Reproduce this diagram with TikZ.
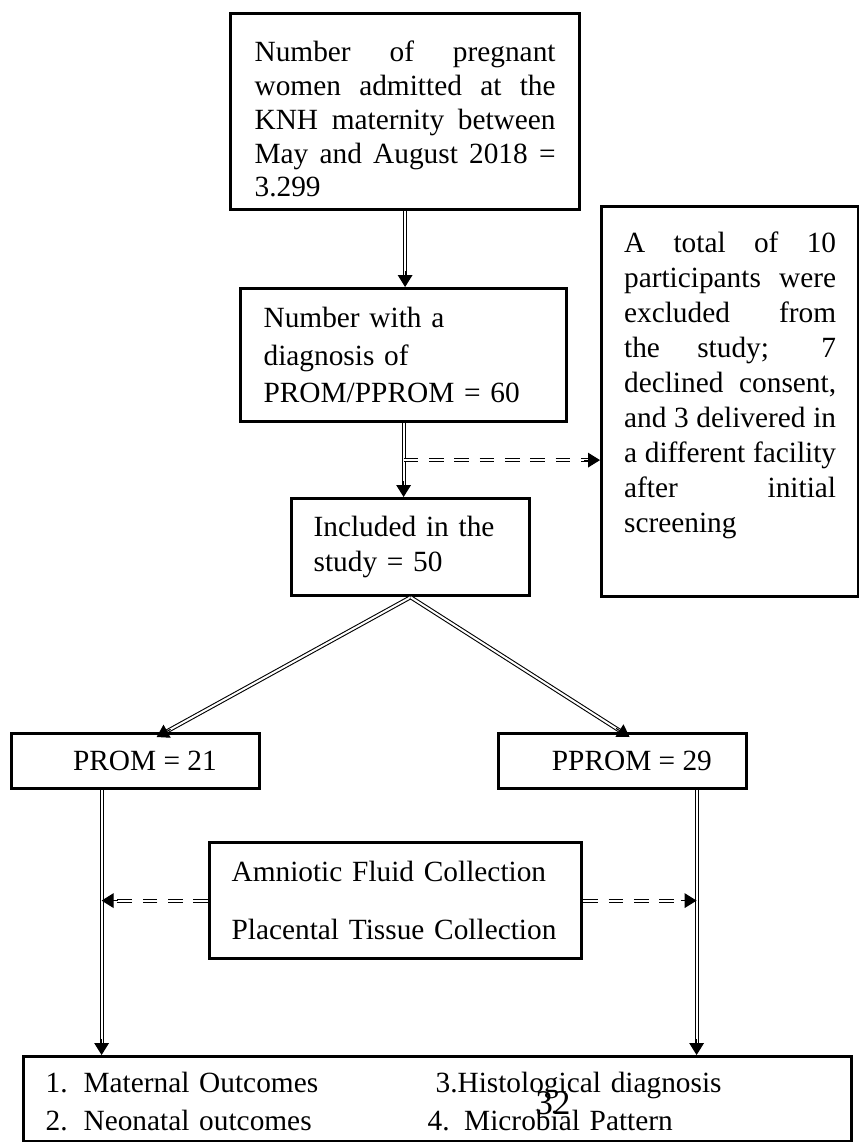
\documentclass[tikz,border=0pt]{standalone}
\usepackage{fontspec}
\setmainfont{Liberation Serif}
\usetikzlibrary{arrows.meta,positioning,calc}
\hyphenpenalty=10000
\exhyphenpenalty=10000
\tolerance=10000

\begin{document}
\begin{tikzpicture}[x=0.75pt, y=0.75pt, yscale=-1,
    box/.style={draw, line width=2.4pt, anchor=north west, inner ysep=0pt, font=\fontsize{22}{25.3}\selectfont},
    dbl/.style={double, double distance=1.5pt, line width=0.8pt, shorten >=8pt},
    dbldash/.style={dbl, dash pattern=on 11pt off 8pt},
    arrowhead/.style={line width=0.8pt, -{Triangle[length=9pt,width=11pt]}},
  ]
  \useasboundingbox (0,0) rectangle (859,1142);
  \node[box, minimum height=147pt, text width=225.75pt, inner xsep=18pt, align=justify] (women) at (229,12) {\rule{0pt}{27pt}Number of pregnant\linebreak women admitted at the\linebreak KNH maternity between\linebreak May and August 2018 =\linebreak 3.299};
  \node[box, minimum height=99.75pt, text width=210pt, inner xsep=17.25pt, align=left, font=\fontsize{22}{28}\selectfont] (diag) at (239,287) {Number with a\\ diagnosis of\\ PROM/PPROM = 60};
  \node[box, inner xsep=16.875pt, inner ysep=18.75pt] (excl) at (600,205) {\parbox[c][255pt][t]{159pt}{\fontsize{22}{26.25}\selectfont A total of 10\linebreak participants were\linebreak excluded from\linebreak the study; 7\linebreak declined consent,\linebreak and 3 delivered in\linebreak a different facility\linebreak after initial\linebreak screening}};
  \node[box, minimum height=72.75pt, text width=145.5pt, inner xsep=16.5pt, align=left, font=\fontsize{22}{26.25}\selectfont] (incl) at (290,497) {Included in the\\ study = 50};
  \node[box, minimum width=186pt, minimum height=41.25pt] (prom) at (10,732) {\hspace*{14pt}PROM = 21};
  \node[box, minimum width=186pt, minimum height=41.25pt] (pprom) at (497,732) {\hspace*{14pt}PPROM = 29};
  \node[box, minimum height=87pt, text width=246pt, inner xsep=16.5pt, align=left, font=\fontsize{22}{43.5}\selectfont] (coll) at (208,841) {Amniotic Fluid Collection\\ Placental Tissue Collection};
  \node[box, minimum height=63.75pt, text width=588pt, inner xsep=16.5pt, align=left, font=\fontsize{22}{28.5}\selectfont] (outc) at (22,1055) {\rule{0pt}{19pt}\makebox[286.5pt][l]{\makebox[28.5pt][l]{1.}Maternal Outcomes}\hspace*{6pt}3.Histological diagnosis\\ \makebox[286.5pt][l]{\makebox[28.5pt][l]{2.}Neonatal outcomes}4. Microbial Pattern};
  \node[font=\fontsize{26}{26}\selectfont, inner sep=0pt] (pagenum) at (553,1103) {32};

  \coordinate (a1) at (women.south |- diag.north);
  \coordinate (a2) at (diag.south |- incl.north);
  \coordinate (brk) at ($(diag.south)!0.5!(a2)$);
  \coordinate (bend) at (brk -| excl.west);
  \coordinate (lsplit) at ([xshift=15.75pt, yshift=3.75pt]prom.north);
  \coordinate (rsplit) at ([xshift=5.25pt, yshift=3.75pt]pprom.north);
  \coordinate (ltrunk) at ([xshift=-25.5pt]prom.south);
  \coordinate (rtrunk) at ([xshift=55.5pt]pprom.south);
  \coordinate (lend) at (ltrunk |- outc.north);
  \coordinate (rend) at (rtrunk |- outc.north);
  \coordinate (lcoll) at (coll.west -| ltrunk);
  \coordinate (rcoll) at (coll.east -| rtrunk);

  \draw[dbl] (women.south) -- (a1);
  \draw[arrowhead] ($(a1)!12pt!(women.south)$) -- (a1);
  \draw[dbl] (diag.south) -- (a2);
  \draw[arrowhead] ($(a2)!12pt!(diag.south)$) -- (a2);
  \draw[dbldash] (brk) -- (bend);
  \draw[arrowhead] ($(bend)!12pt!(brk)$) -- (bend);
  \draw[dbl] (incl.south) -- (lsplit);
  \draw[arrowhead] ($(lsplit)!12pt!(incl.south)$) -- (lsplit);
  \draw[dbl] (incl.south) -- (rsplit);
  \draw[arrowhead] ($(rsplit)!12pt!(incl.south)$) -- (rsplit);
  \draw[dbl] (ltrunk) -- (lend);
  \draw[arrowhead] ($(lend)!12pt!(ltrunk)$) -- (lend);
  \draw[dbl] (rtrunk) -- (rend);
  \draw[arrowhead] ($(rend)!12pt!(rtrunk)$) -- (rend);
  \draw[dbldash] (coll.west) -- (lcoll);
  \draw[arrowhead] ($(lcoll)!12pt!(coll.west)$) -- (lcoll);
  \draw[dbldash] (coll.east) -- (rcoll);
  \draw[arrowhead] ($(rcoll)!12pt!(coll.east)$) -- (rcoll);
\end{tikzpicture}
\end{document}
